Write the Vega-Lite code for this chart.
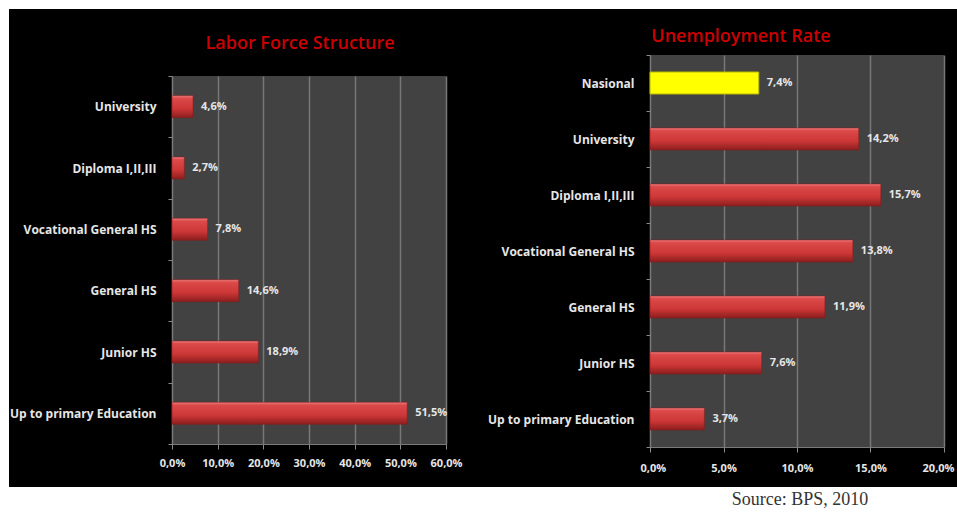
{
  "$schema": "https://vega.github.io/schema/vega-lite/v6.json",
  "background": "black",
  "padding": 0,
  "autosize": {"type": "pad"},
  "spacing": 0,
  "config": {
    "view": {"stroke": null},
    "concat": {"spacing": 0},
    "locale": {"number": {"decimal": ",", "thousands": ".", "grouping": [3], "currency": ["", "€"]}},
    "axis": {"labelFont": "Open Sans", "labelFontWeight": "bold", "labelColor": "#e6e6e6", "domainColor": "#7a7a7a", "tickColor": "#8a8a8a", "gridColor": "#777777"}
  },
  "datasets": {
    "labor": [
      {"category": "University", "value": 0.046},
      {"category": "Diploma I,II,III", "value": 0.027},
      {"category": "Vocational General HS", "value": 0.078},
      {"category": "General HS", "value": 0.146},
      {"category": "Junior HS", "value": 0.189},
      {"category": "Up to primary Education", "value": 0.515}
    ],
    "unemp": [
      {"category": "Nasional", "value": 0.074},
      {"category": "University", "value": 0.142},
      {"category": "Diploma I,II,III", "value": 0.157},
      {"category": "Vocational General HS", "value": 0.138},
      {"category": "General HS", "value": 0.119},
      {"category": "Junior HS", "value": 0.076},
      {"category": "Up to primary Education", "value": 0.037}
    ],
    "source": [{"text": "Source: BPS, 2010"}]
  },
  "vconcat": [
    {"width": 957, "height": 9, "view": {"fill": "white"}, "data": {"values": []}, "mark": "text", "encoding": {}},
    {
      "spacing": 0,
      "hconcat": [
        {"width": 9, "height": 478, "view": {"fill": "white"}, "data": {"values": []}, "mark": "text", "encoding": {}},
        {
          "spacing": 25,
          "hconcat": [
            {
              "spacing": 0,
              "vconcat": [
                {"width": 10, "height": 26, "data": {"values": []}, "mark": "text", "encoding": {}},
                {
                  "width": 274,
                  "height": 368,
                  "view": {"fill": "#424242"},
                  "title": {"text": "Labor Force Structure", "color": "#cc0000", "font": "Open Sans", "fontSize": 18, "fontWeight": 600, "offset": 17, "frame": "group", "anchor": "middle", "dx": -9},
                  "data": {"name": "labor"},
                  "encoding": {
                    "y": {"field": "category", "type": "nominal", "sort": null, "scale": {"paddingInner": 0, "paddingOuter": 0},
                      "axis": {"title": null, "tickBand": "extent", "tickSize": 4, "labelPadding": 12, "labelFontSize": 12}},
                    "x": {"field": "value", "type": "quantitative", "scale": {"domain": [0, 0.6], "nice": false},
                      "axis": {"title": null, "values": [0, 0.1, 0.2, 0.3, 0.4, 0.5, 0.6], "format": ".1%", "labelFlush": false, "tickSize": 5, "labelPadding": 8, "labelFontSize": 11, "gridWidth": 1.5}}
                  },
                  "layer": [
                    {"mark": {"type": "bar", "size": 22, "stroke": "#8a1a1a", "strokeWidth": 0.5,
                      "color": {"gradient": "linear", "x1": 0, "y1": 0, "x2": 0, "y2": 1, "stops": [
                        {"offset": 0, "color": "#f08080"}, {"offset": 0.12, "color": "#dc4a4a"}, {"offset": 0.6, "color": "#cc3636"}, {"offset": 1, "color": "#8c1e1e"}]}}},
                    {"mark": {"type": "text", "align": "left", "baseline": "middle", "dx": 8, "font": "Open Sans", "fontSize": 11, "fontWeight": "bold", "color": "#e6e6e6"},
                      "encoding": {"text": {"field": "value", "type": "quantitative", "format": ".1%"}}}
                  ]
                }
              ]
            },
            {
              "spacing": 0,
              "vconcat": [
                {"width": 10, "height": 19, "data": {"values": []}, "mark": "text", "encoding": {}},
                {
                  "width": 294,
                  "height": 392,
                  "view": {"fill": "#424242"},
                  "title": {"text": "Unemployment Rate", "color": "#cc0000", "font": "Open Sans", "fontSize": 18, "fontWeight": 600, "offset": 3, "frame": "group", "anchor": "middle", "dx": -56},
                  "data": {"name": "unemp"},
                  "encoding": {
                    "y": {"field": "category", "type": "nominal",
                      "sort": ["Nasional", "University", "Diploma I,II,III", "Vocational General HS", "General HS", "Junior HS", "Up to primary Education"],
                      "scale": {"paddingInner": 0, "paddingOuter": 0},
                      "axis": {"title": null, "tickBand": "extent", "tickSize": 4, "labelPadding": 12, "labelFontSize": 12}},
                    "x": {"field": "value", "type": "quantitative", "scale": {"domain": [0, 0.2], "nice": false},
                      "axis": {"title": null, "values": [0, 0.05, 0.1, 0.15, 0.2], "format": ".1%", "labelFlush": true, "labelFlushOffset": 10, "tickSize": 5, "labelPadding": 10, "labelFontSize": 11, "gridWidth": 1.5}}
                  },
                  "layer": [
                    {"transform": [{"filter": "datum.category !== 'Nasional'"}],
                      "mark": {"type": "bar", "size": 22, "stroke": "#8a1a1a", "strokeWidth": 0.5,
                      "color": {"gradient": "linear", "x1": 0, "y1": 0, "x2": 0, "y2": 1, "stops": [
                        {"offset": 0, "color": "#f08080"}, {"offset": 0.12, "color": "#dc4a4a"}, {"offset": 0.6, "color": "#cc3636"}, {"offset": 1, "color": "#8c1e1e"}]}}},
                    {"transform": [{"filter": "datum.category === 'Nasional'"}],
                      "mark": {"type": "bar", "size": 22, "color": "#ffff00", "stroke": "#b8b800", "strokeWidth": 1}},
                    {"mark": {"type": "text", "align": "left", "baseline": "middle", "dx": 8, "font": "Open Sans", "fontSize": 11, "fontWeight": "bold", "color": "#e6e6e6"},
                      "encoding": {"text": {"field": "value", "type": "quantitative", "format": ".1%"}}}
                  ]
                }
              ]
            }
          ]
        }
      ]
    },
    {
      "spacing": 0,
      "hconcat": [
        {"width": 730, "height": 25, "view": {"fill": "white"}, "data": {"values": []}, "mark": "text", "encoding": {}},
        {"width": 140, "height": 25, "view": {"fill": "white"}, "data": {"name": "source"},
          "mark": {"type": "text", "font": "Liberation Serif", "fontSize": 18, "color": "#333333", "baseline": "middle"},
          "encoding": {"text": {"field": "text", "type": "nominal"}}},
        {"width": 87, "height": 25, "view": {"fill": "white"}, "data": {"values": []}, "mark": "text", "encoding": {}}
      ]
    }
  ]
}
